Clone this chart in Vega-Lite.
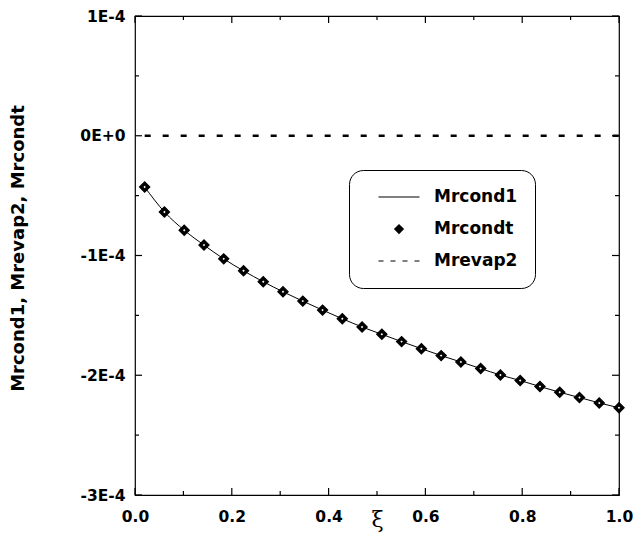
{
  "$schema": "https://vega.github.io/schema/vega-lite/v6.json",
  "width": 484,
  "height": 479,
  "autosize": {"type": "none"},
  "padding": {"left": 135, "top": 16, "right": 14, "bottom": 40},
  "background": "white",
  "config": {
    "view": {"stroke": "black", "strokeWidth": 1.2},
    "axis": {
      "domain": false, "grid": false, "ticks": false,
      "labelFont": "DejaVu Sans", "labelFontWeight": "bold", "labelFontSize": 15.5, "labelColor": "black",
      "titleFont": "DejaVu Sans", "titleFontWeight": "bold", "titleFontSize": 18, "titleColor": "black"
    },
    "tick": {"color": "black", "thickness": 1.2, "opacity": 1}
  },
  "datasets": {
    "curve": [
      {"xi": 0.02, "M": -4.28e-5, "series": "Mrcondt"},
      {"xi": 0.0608, "M": -6.36e-5, "series": "Mrcondt"},
      {"xi": 0.1017, "M": -7.89e-5, "series": "Mrcondt"},
      {"xi": 0.1425, "M": -9.13e-5, "series": "Mrcondt"},
      {"xi": 0.1833, "M": -1.028e-4, "series": "Mrcondt"},
      {"xi": 0.2242, "M": -1.128e-4, "series": "Mrcondt"},
      {"xi": 0.265, "M": -1.219e-4, "series": "Mrcondt"},
      {"xi": 0.3058, "M": -1.303e-4, "series": "Mrcondt"},
      {"xi": 0.3467, "M": -1.381e-4, "series": "Mrcondt"},
      {"xi": 0.3875, "M": -1.456e-4, "series": "Mrcondt"},
      {"xi": 0.4283, "M": -1.528e-4, "series": "Mrcondt"},
      {"xi": 0.4692, "M": -1.597e-4, "series": "Mrcondt"},
      {"xi": 0.51, "M": -1.658e-4, "series": "Mrcondt"},
      {"xi": 0.5508, "M": -1.719e-4, "series": "Mrcondt"},
      {"xi": 0.5917, "M": -1.778e-4, "series": "Mrcondt"},
      {"xi": 0.6325, "M": -1.836e-4, "series": "Mrcondt"},
      {"xi": 0.6733, "M": -1.889e-4, "series": "Mrcondt"},
      {"xi": 0.7142, "M": -1.944e-4, "series": "Mrcondt"},
      {"xi": 0.755, "M": -1.998e-4, "series": "Mrcondt"},
      {"xi": 0.7958, "M": -2.044e-4, "series": "Mrcondt"},
      {"xi": 0.8367, "M": -2.094e-4, "series": "Mrcondt"},
      {"xi": 0.8775, "M": -2.142e-4, "series": "Mrcondt"},
      {"xi": 0.9183, "M": -2.186e-4, "series": "Mrcondt"},
      {"xi": 0.9592, "M": -2.231e-4, "series": "Mrcondt"},
      {"xi": 1.0, "M": -2.272e-4, "series": "Mrcondt"}
    ],
    "zero": [
      {"xi": 0.02, "M": 0},
      {"xi": 1.0, "M": 0}
    ],
    "xticks": [
      {"xi": 0.0, "kind": "major"}, {"xi": 0.1, "kind": "minor"},
      {"xi": 0.2, "kind": "major"}, {"xi": 0.3, "kind": "minor"},
      {"xi": 0.4, "kind": "major"}, {"xi": 0.5, "kind": "minor"},
      {"xi": 0.6, "kind": "major"}, {"xi": 0.7, "kind": "minor"},
      {"xi": 0.8, "kind": "major"}, {"xi": 0.9, "kind": "minor"},
      {"xi": 1.0, "kind": "major"}
    ],
    "yticks": [
      {"M": -0.0003, "kind": "major"}, {"M": -0.00025, "kind": "minor"},
      {"M": -0.0002, "kind": "major"}, {"M": -0.00015, "kind": "minor"},
      {"M": -0.0001, "kind": "major"}, {"M": -0.00005, "kind": "minor"},
      {"M": 0, "kind": "major"}, {"M": 0.00005, "kind": "minor"},
      {"M": 0.0001, "kind": "major"}
    ]
  },
  "layer": [
    {
      "data": {"name": "zero"},
      "mark": {"type": "line", "color": "black", "strokeWidth": 2.6, "strokeDash": [6, 12]},
      "encoding": {
        "x": {"field": "xi", "type": "quantitative",
          "scale": {"domain": [0, 1], "nice": false, "zero": false},
          "axis": {"orient": "bottom", "values": [0, 0.2, 0.4, 0.6, 0.8, 1.0], "format": ".1f",
            "labelPadding": 14, "labelFlush": false,
            "title": "ξ", "titleFont": "DejaVu Serif", "titleFontSize": 22, "titleFontWeight": "normal",
            "titleY": 24, "titleBaseline": "middle"}},
        "y": {"field": "M", "type": "quantitative",
          "scale": {"domain": [-0.0003, 0.0001], "nice": false, "zero": false},
          "axis": {"orient": "left", "values": [-0.0003, -0.0002, -0.0001, 0, 0.0001],
            "labelExpr": "datum.value == 0 ? '0E+0' : round(datum.value * 10000) + 'E-4'",
            "labelPadding": 10, "labelFlush": false,
            "title": "Mrcond1, Mrevap2, Mrcondt", "titleX": -117, "titleY": 232, "titleBaseline": "middle", "titleAngle": -90}}
      }
    },
    {
      "data": {"name": "xticks"},
      "transform": [{"filter": "datum.kind == 'major'"}],
      "mark": {"type": "tick", "orient": "vertical", "size": 7, "yOffset": -3.5},
      "encoding": {"x": {"field": "xi", "type": "quantitative"}, "y": {"datum": -0.0003, "type": "quantitative"}}
    },
    {
      "data": {"name": "xticks"},
      "transform": [{"filter": "datum.kind == 'minor'"}],
      "mark": {"type": "tick", "orient": "vertical", "size": 4, "yOffset": -2},
      "encoding": {"x": {"field": "xi", "type": "quantitative"}, "y": {"datum": -0.0003, "type": "quantitative"}}
    },
    {
      "data": {"name": "xticks"},
      "transform": [{"filter": "datum.kind == 'major'"}],
      "mark": {"type": "tick", "orient": "vertical", "size": 7, "yOffset": 3.5},
      "encoding": {"x": {"field": "xi", "type": "quantitative"}, "y": {"datum": 0.0001, "type": "quantitative"}}
    },
    {
      "data": {"name": "xticks"},
      "transform": [{"filter": "datum.kind == 'minor'"}],
      "mark": {"type": "tick", "orient": "vertical", "size": 4, "yOffset": 2},
      "encoding": {"x": {"field": "xi", "type": "quantitative"}, "y": {"datum": 0.0001, "type": "quantitative"}}
    },
    {
      "data": {"name": "yticks"},
      "transform": [{"filter": "datum.kind == 'major'"}],
      "mark": {"type": "tick", "orient": "horizontal", "size": 7, "xOffset": 3.5},
      "encoding": {"x": {"datum": 0, "type": "quantitative"}, "y": {"field": "M", "type": "quantitative"}}
    },
    {
      "data": {"name": "yticks"},
      "transform": [{"filter": "datum.kind == 'minor'"}],
      "mark": {"type": "tick", "orient": "horizontal", "size": 4, "xOffset": 2},
      "encoding": {"x": {"datum": 0, "type": "quantitative"}, "y": {"field": "M", "type": "quantitative"}}
    },
    {
      "data": {"name": "yticks"},
      "transform": [{"filter": "datum.kind == 'major'"}],
      "mark": {"type": "tick", "orient": "horizontal", "size": 7, "xOffset": -3.5},
      "encoding": {"x": {"datum": 1, "type": "quantitative"}, "y": {"field": "M", "type": "quantitative"}}
    },
    {
      "data": {"name": "yticks"},
      "transform": [{"filter": "datum.kind == 'minor'"}],
      "mark": {"type": "tick", "orient": "horizontal", "size": 4, "xOffset": -2},
      "encoding": {"x": {"datum": 1, "type": "quantitative"}, "y": {"field": "M", "type": "quantitative"}}
    },
    {
      "data": {"name": "curve"},
      "mark": {"type": "line", "color": "black", "strokeWidth": 1, "interpolate": "monotone"},
      "encoding": {
        "x": {"field": "xi", "type": "quantitative"},
        "y": {"field": "M", "type": "quantitative"}
      }
    },
    {
      "data": {"name": "curve"},
      "mark": {"type": "point", "filled": true, "color": "black", "stroke": "black", "strokeWidth": 1.2, "opacity": 1, "size": 1681},
      "encoding": {
        "x": {"field": "xi", "type": "quantitative"},
        "y": {"field": "M", "type": "quantitative"},
        "shape": {"field": "series", "type": "nominal",
          "scale": {"domain": ["Mrcond1", "Mrcondt", "Mrevap2"],
            "range": [
              "M-1,-0.026L1,-0.026L1,0.026L-1,0.026Z",
              "M-0.25,0L0,-0.25L0.25,0L0,0.25Z",
              "M-1,-0.026L-0.756,-0.026L-0.756,0.026L-1,0.026ZM-0.415,-0.026L-0.171,-0.026L-0.171,0.026L-0.415,0.026ZM0.171,-0.026L0.415,-0.026L0.415,0.026L0.171,0.026ZM0.756,-0.026L1,-0.026L1,0.026L0.756,0.026Z"]},
          "legend": {
            "orient": "none", "legendX": 214, "legendY": 154, "title": null,
            "strokeColor": "black", "cornerRadius": 14, "padding": 17,
            "symbolSize": 1681, "clipHeight": 20, "symbolOffset": 12,
            "symbolFillColor": "black", "symbolStrokeColor": "black", "symbolStrokeWidth": 0.3,
            "labelFont": "DejaVu Sans", "labelFontWeight": "bold", "labelFontSize": 17, "labelColor": "black",
            "labelOffset": 14, "rowPadding": 12
          }}
      }
    },
    {
      "data": {"name": "curve"},
      "mark": {"type": "point", "filled": true, "color": "white", "opacity": 1, "shape": "diamond", "size": 6},
      "encoding": {
        "x": {"field": "xi", "type": "quantitative"},
        "y": {"field": "M", "type": "quantitative"}
      }
    }
  ]
}
